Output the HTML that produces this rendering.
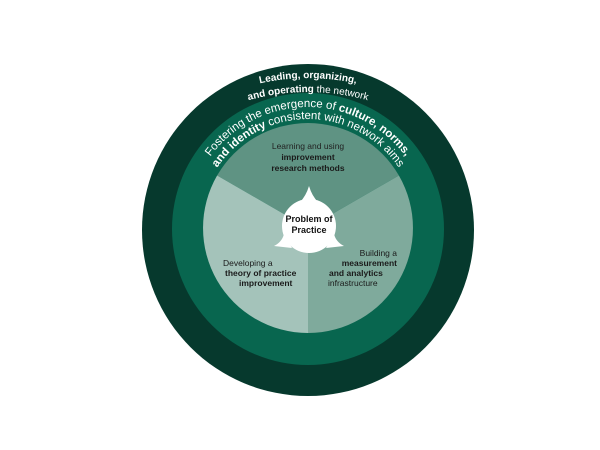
<!DOCTYPE html>
<html><head><meta charset="utf-8"><style>
html,body{margin:0;padding:0;background:#fff;}
svg{display:block;font-family:"Liberation Sans",sans-serif;}
</style></head><body>
<svg width="600" height="450" viewBox="0 0 600 450">
<defs>
<path id="a1" d="M88,298 A220,220 0 0 1 528,298"/>
<path id="a2" d="M88,312 A220,220 0 0 1 528,312"/>
<path id="a3" d="M187,228 A121,121 0 0 1 429,228"/>
<path id="a4" d="M199,228 A109,109 0 0 1 417,228"/>
</defs>
<circle cx="308" cy="230" r="166" fill="#06392d"/>
<circle cx="308" cy="229" r="136" fill="#08664f"/>
<path d="M308,228 L217.1,175.5 A105,105 0 0 1 398.9,175.5 Z" fill="#5f9383"/>
<path d="M308,228 L217.1,175.5 A105,105 0 0 0 308,333 Z" fill="#a4c3ba"/>
<path d="M308,228 L398.9,175.5 A105,105 0 0 1 308,333 Z" fill="#7faa9c"/>
<circle cx="309" cy="226" r="27" fill="#fff"/>
<path d="M300,202 Q306,196 309,186 Q312,196 318,202 Z" fill="#fff"/>
<path d="M284,234 Q282,242 274,246 L292,248 Z" fill="#fff"/>
<path d="M334,234 Q336,242 344,246 L326,248 Z" fill="#fff"/>
<text x="309" y="222" font-size="9" font-weight="bold" text-anchor="middle" fill="#111">Problem of</text>
<text x="309" y="233" font-size="9" font-weight="bold" text-anchor="middle" fill="#111">Practice</text>
<text font-size="10" fill="#fff" text-anchor="middle"><textPath href="#a1" startOffset="50%" font-weight="bold">Leading, organizing,</textPath></text>
<text font-size="10" fill="#fff" text-anchor="middle"><textPath href="#a2" startOffset="50%"><tspan font-weight="bold">and operating</tspan> the network</textPath></text>
<text font-size="11.5" fill="#fff" text-anchor="middle"><textPath href="#a3" startOffset="50%">Fostering the emergence of <tspan font-weight="bold">culture, norms,</tspan></textPath></text>
<text font-size="11.5" fill="#fff" text-anchor="middle"><textPath href="#a4" startOffset="50%"><tspan font-weight="bold">and identity</tspan> consistent with network aims</textPath></text>
<g font-size="8.5" fill="#1a1a1a">
<text x="308" y="149" text-anchor="middle" fill="#222">Learning and using</text>
<text x="308" y="160" text-anchor="middle" font-weight="bold">improvement</text>
<text x="308" y="171" text-anchor="middle" font-weight="bold">research methods</text>
<text x="223" y="266">Developing a</text>
<text x="225" y="276" font-weight="bold">theory of practice</text>
<text x="239" y="286" font-weight="bold">improvement</text>
<text x="397" y="256" text-anchor="end">Building a</text>
<text x="397" y="266" text-anchor="end" font-weight="bold">measurement</text>
<text x="329" y="276" font-weight="bold">and analytics</text>
<text x="328" y="286">infrastructure</text>
</g>
</svg>
</body></html>
